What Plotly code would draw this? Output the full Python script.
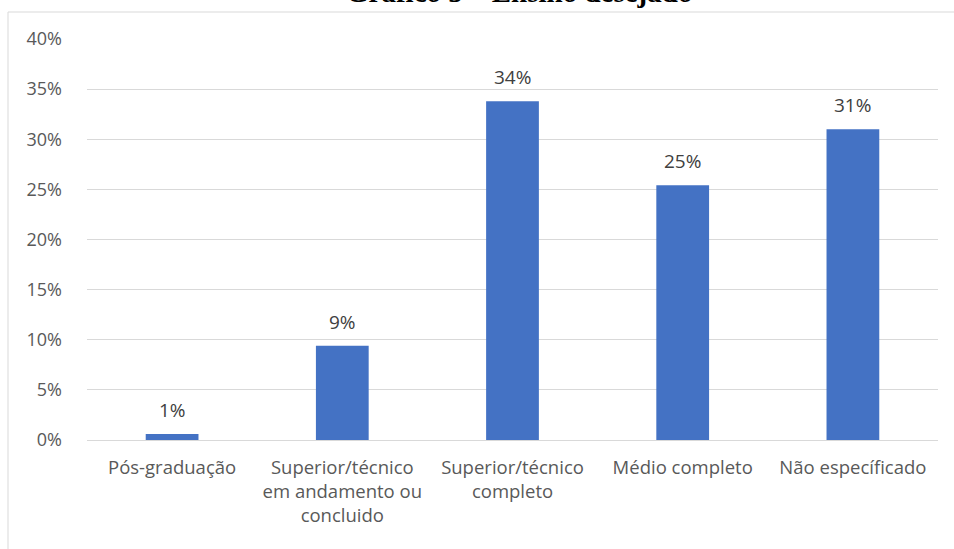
import plotly.graph_objects as go

categories = [
    "Pós-graduação",
    "Superior/técnico<br>em andamento ou<br>concluido",
    "Superior/técnico<br>completo",
    "Médio completo",
    "Não específicado",
]
values = [0.6, 9.4, 33.8, 25.4, 31.0]
labels = ["1%", "9%", "34%", "25%", "31%"]
y_ticks = [0, 5, 10, 15, 20, 25, 30, 35, 40]
y_tick_text = [f"{v}%" for v in y_ticks]
title_text = "Gráfico 5 – Ensino desejado"

W, H = 954, 549
L, R, T, B = 87, 16, 39, 109
pw, ph = W - L - R, H - T - B

def px_x(p):
    return (p - L) / pw

def px_y(p):
    return (H - B - p) / ph

font_main = "Open Sans"
grey = "#595959"

fig = go.Figure()
fig.add_trace(go.Bar(
    x=categories, y=values, width=0.31,
    marker=dict(color="#4472C4", line=dict(width=0)),
    hoverinfo="skip",
))

for c, v, t in zip(categories, values, labels):
    fig.add_annotation(
        x=c, y=v, xref="x", yref="y", text=t, showarrow=False,
        yanchor="bottom", yshift=9,
        font=dict(family=font_main, size=19, color="#404040"),
    )

fig.add_annotation(
    x=px_x(519), y=px_y(10), xref="paper", yref="paper", text=f"<b>{title_text}</b>",
    showarrow=False, xanchor="center", yanchor="bottom",
    font=dict(family="Liberation Serif", size=29, color="#000000"),
)

fig.add_shape(
    type="rect", xref="paper", yref="paper",
    x0=px_x(8), x1=px_x(1100), y0=px_y(700), y1=px_y(12),
    line=dict(color="#D9D9D9", width=1), fillcolor="rgba(0,0,0,0)", layer="above",
)

fig.update_layout(
    width=W, height=H,
    margin=dict(l=L, r=R, t=T, b=B, pad=0),
    paper_bgcolor="white", plot_bgcolor="white",
    showlegend=False,
    xaxis=dict(
        showgrid=False, showline=False, zeroline=False, ticks="",
        tickfont=dict(family=font_main, size=18.5, color=grey),
        ticklabelstandoff=14,
    ),
    yaxis=dict(
        range=[0, 40], tickvals=y_ticks, ticktext=y_tick_text,
        showgrid=True, gridcolor="#D9D9D9", gridwidth=1,
        zeroline=True, zerolinecolor="#D9D9D9", zerolinewidth=1,
        showline=False, ticks="",
        tickfont=dict(family=font_main, size=18, color=grey),
        ticklabelstandoff=24,
    ),
)

fig.write_html("out.html")
